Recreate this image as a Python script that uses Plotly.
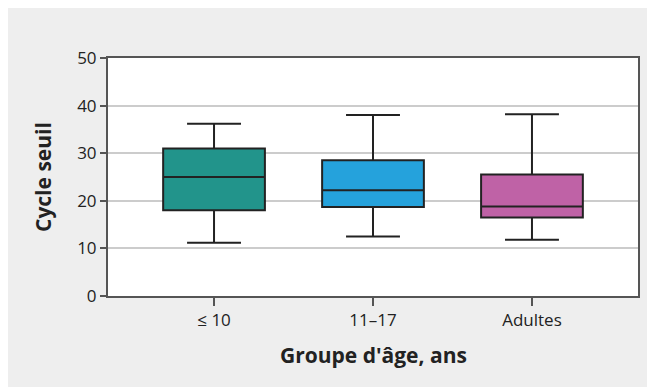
import plotly.graph_objects as go

categories = ["≤ 10", "11–17", "Adultes"]
q1 = [18.0, 18.7, 16.5]
median = [25.0, 22.2, 18.8]
q3 = [31.0, 28.5, 25.5]
lower = [11.2, 12.5, 11.8]
upper = [36.2, 38.0, 38.2]
colors = ["#22948b", "#25a2dc", "#bf62a6"]

TICKFONT = "Open Sans"
TITLEFONT = "Open Sans"
W, H = 647, 379
ml, mr, mt, mb = 100, 17, 50, 91
pw, ph = W - ml - mr, H - mt - mb

fig = go.Figure()
for i, c in enumerate(categories):
    fig.add_trace(go.Box(
        x=[i], q1=[q1[i]], median=[median[i]], q3=[q3[i]],
        lowerfence=[lower[i]], upperfence=[upper[i]],
        fillcolor=colors[i], line=dict(color="#222222", width=2),
        width=0.64, whiskerwidth=0.53, boxpoints=False,
        name=c, showlegend=False, hoverinfo="skip"))

fig.add_annotation(text="<b>Groupe d'âge, ans</b>", xref="paper", yref="paper",
                   x=0.5, y=(H - mb - 347) / ph, xanchor="center", yanchor="middle",
                   showarrow=False, font=dict(family=TITLEFONT, size=21, color="#222222"))
fig.add_annotation(text="<b>Cycle seuil</b>", xref="paper", yref="paper",
                   x=(35 - ml) / pw, y=0.5, xanchor="center", yanchor="middle",
                   textangle=-90, showarrow=False,
                   font=dict(family=TITLEFONT, size=21, color="#222222"))

fig.update_layout(
    width=W, height=H,
    margin=dict(l=ml, r=mr, t=mt, b=mb, autoexpand=False),
    paper_bgcolor="#eeeeee", plot_bgcolor="#ffffff",
    font=dict(family=TICKFONT, color="#222222", size=17),
    xaxis=dict(
        range=[-0.667, 2.667], tickvals=[0, 1, 2], ticktext=categories,
        showgrid=False, zeroline=False,
        showline=True, linecolor="#555555", linewidth=2, mirror=True,
        ticks="outside", ticklen=8, tickcolor="#555555", tickwidth=1.5,
        tickfont=dict(size=17, color="#222222"),
    ),
    yaxis=dict(
        range=[0, 50], tickvals=[0, 10, 20, 30, 40, 50],
        showgrid=True, gridcolor="#cccccc", gridwidth=1.5, zeroline=False,
        showline=True, linecolor="#555555", linewidth=2, mirror=True,
        ticks="outside", ticklen=6, tickcolor="#555555", tickwidth=1.5,
        tickfont=dict(size=17, color="#222222"),
    ),
)

fig.write_html("out.html")
